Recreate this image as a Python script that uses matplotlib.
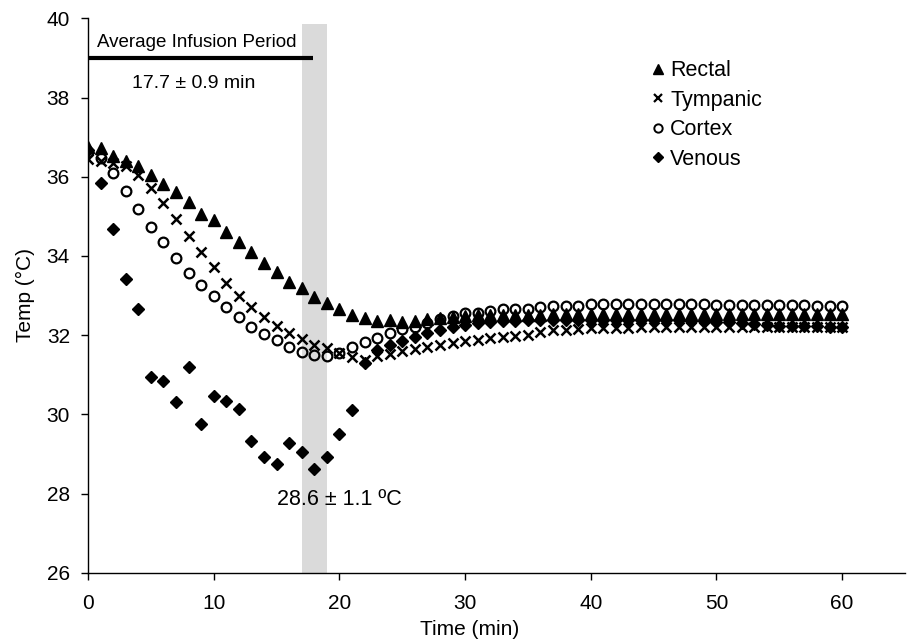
import matplotlib
matplotlib.use("Agg")
import matplotlib.pyplot as plt
from matplotlib.lines import Line2D

plt.rcParams['font.family'] = ['Liberation Sans', 'DejaVu Sans']

time_min = [0, 1, 2, 3, 4, 5, 6, 7, 8, 9,
            10, 11, 12, 13, 14, 15, 16, 17, 18, 19,
            20, 21, 22, 23, 24, 25, 26, 27, 28, 29,
            30, 31, 32, 33, 34, 35, 36, 37, 38, 39,
            40, 41, 42, 43, 44, 45, 46, 47, 48, 49,
            50, 51, 52, 53, 54, 55, 56, 57, 58, 59, 60]

rectal = [36.76, 36.72, 36.52, 36.40, 36.27, 36.04, 35.81, 35.61, 35.36, 35.07,
          34.90, 34.61, 34.34, 34.10, 33.83, 33.59, 33.35, 33.18, 32.97, 32.80,
          32.65, 32.51, 32.42, 32.36, 32.37, 32.34, 32.36, 32.40, 32.42, 32.46,
          32.48, 32.50, 32.50, 32.51, 32.51, 32.52, 32.52, 32.53, 32.53, 32.53,
          32.54, 32.54, 32.54, 32.54, 32.54, 32.54, 32.54, 32.54, 32.54, 32.54,
          32.54, 32.54, 32.54, 32.54, 32.54, 32.54, 32.54, 32.54, 32.54, 32.54, 32.54]

tympanic = [36.44, 36.40, 36.34, 36.27, 36.04, 35.71, 35.34, 34.92, 34.50, 34.09,
            33.72, 33.32, 32.98, 32.70, 32.46, 32.24, 32.05, 31.89, 31.75, 31.67,
            31.55, 31.44, 31.38, 31.47, 31.53, 31.60, 31.64, 31.69, 31.75, 31.79,
            31.85, 31.88, 31.92, 31.96, 31.98, 32.00, 32.07, 32.12, 32.13, 32.16,
            32.17, 32.18, 32.19, 32.19, 32.20, 32.20, 32.20, 32.20, 32.20, 32.20,
            32.20, 32.20, 32.20, 32.20, 32.20, 32.20, 32.20, 32.20, 32.20, 32.20, 32.20]

cortex = [36.63, 36.46, 36.09, 35.64, 35.18, 34.74, 34.34, 33.95, 33.58, 33.26,
          32.98, 32.70, 32.45, 32.21, 32.04, 31.87, 31.71, 31.58, 31.50, 31.48,
          31.54, 31.71, 31.83, 31.92, 32.06, 32.15, 32.21, 32.30, 32.40, 32.48,
          32.55, 32.57, 32.62, 32.65, 32.66, 32.67, 32.72, 32.73, 32.73, 32.74,
          32.78, 32.78, 32.79, 32.79, 32.79, 32.79, 32.78, 32.78, 32.78, 32.78,
          32.77, 32.77, 32.77, 32.76, 32.76, 32.75, 32.75, 32.75, 32.74, 32.74, 32.74]

venous = [36.68, 35.85, 34.68, 33.42, 32.66, 30.93, 30.83, 30.31, 31.20, 29.75,
          30.47, 30.34, 30.13, 29.33, 28.91, 28.74, 29.28, 29.05, 28.63, 28.91,
          29.51, 30.11, 31.30, 31.62, 31.75, 31.86, 31.96, 32.06, 32.13, 32.20,
          32.26, 32.30, 32.33, 32.35, 32.36, 32.37, 32.38, 32.38, 32.38, 32.39,
          32.39, 32.39, 32.39, 32.38, 32.38, 32.38, 32.38, 32.37, 32.36, 32.35,
          32.34, 32.32, 32.30, 32.27, 32.25, 32.24, 32.23, 32.22, 32.22, 32.21, 32.21]

series_labels = ["Rectal", "Tympanic", "Cortex", "Venous"]

band_start, band_end = 17.0, 19.05
band_top = 39.85
infusion_end = 17.9
infusion_level = 39.0

x_ticks = [0, 10, 20, 30, 40, 50, 60]
y_ticks = [26, 28, 30, 32, 34, 36, 38, 40]

fig = plt.figure(figsize=(9.12, 6.44), dpi=100)
ax = fig.add_axes([88 / 912, 71.3 / 644, 817 / 912, 554.4 / 644])

# shaded band
ax.fill_between([band_start, band_end], 26, band_top, color='#dadada', lw=0, zorder=0)

# infusion bar
ax.plot([0, infusion_end], [infusion_level, infusion_level], color='black', lw=3,
        solid_capstyle='butt', zorder=3, clip_on=False)

ax.plot(time_min, venous, linestyle='none', marker='D', ms=6.5, color='black', zorder=4)
ax.plot(time_min, rectal, linestyle='none', marker='^', ms=8.5, color='black', zorder=5)
ax.plot(time_min, tympanic, linestyle='none', marker='x', ms=7, mew=1.8, color='black', zorder=5)
ax.plot(time_min, cortex, linestyle='none', marker='o', ms=7, mew=1.6,
        markerfacecolor='none', markeredgecolor='black', zorder=6)

ax.set_xlim(0, 65)
ax.set_ylim(26, 40)
ax.set_xticks(x_ticks)
ax.set_yticks(y_ticks)
ax.tick_params(axis='both', labelsize=15, length=5, width=1, direction='out')
ax.tick_params(axis='x', pad=10)
ax.tick_params(axis='y', pad=8)
for s in ['top', 'right']:
    ax.spines[s].set_visible(False)
for s in ['left', 'bottom']:
    ax.spines[s].set_linewidth(1.0)

ax.set_xlabel("Time (min)", fontsize=15)
ax.set_ylabel("Temp (°C)", fontsize=15)
ax.xaxis.set_label_coords((470 - 88) / 817, -0.085)
ax.yaxis.set_label_coords(-0.065, 0.50)

ax.text(0.7, 39.38, "Average Infusion Period", fontsize=13.5, ha='left', va='center')
ax.text(3.5, 38.36, "17.7 ± 0.9 min", fontsize=14, ha='left', va='center')
ax.text(15.0, 27.86, "28.6 ± 1.1 ºC", fontsize=15.5, ha='left', va='center')

handles = [
    Line2D([], [], linestyle='none', marker='^', ms=7, color='black'),
    Line2D([], [], linestyle='none', marker='x', ms=6, mew=1.6, color='black'),
    Line2D([], [], linestyle='none', marker='o', ms=6, mew=1.4, markerfacecolor='none',
           markeredgecolor='black'),
    Line2D([], [], linestyle='none', marker='D', ms=5.5, color='black'),
]
ax.legend(handles, series_labels, loc='upper left', bbox_to_anchor=(0.690, 0.924),
          frameon=False, fontsize=15.5, handlelength=0.6, handletextpad=0.25,
          labelspacing=0.39, borderpad=0, borderaxespad=0)

fig.savefig("out.png", dpi=100)
